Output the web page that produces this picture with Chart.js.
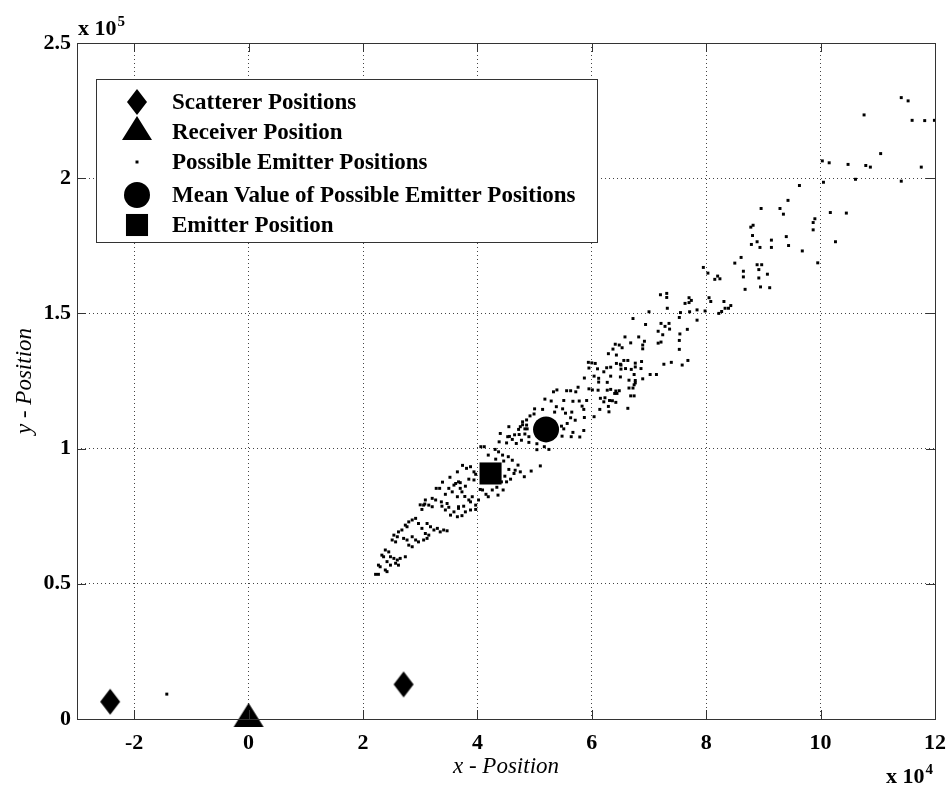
<!DOCTYPE html>
<html>
<head>
<meta charset="utf-8">
<script src="https://cdn.jsdelivr.net/npm/chart.js@4/dist/chart.umd.min.js"></script>
<style>
  html, body { margin: 0; padding: 0; background: #fff; }
  canvas { display: block; }
</style>
</head>
<body>
<canvas id="chart" width="952" height="790"></canvas>
<script>
// x in units of 10^4, y in units of 10^5 (as on the axes)
const xTicks = [-2, 0, 2, 4, 6, 8, 10, 12];
const yTicks = [0, 0.5, 1, 1.5, 2, 2.5];

const scattererX = [-2.42, 2.71];
const scattererY = [0.064, 0.128];
const receiverX = [0];
const receiverY = [0];
const meanX = [5.20];
const meanY = [1.071];
const emitterX = [4.23];
const emitterY = [0.908];

const cloudX = [
  11.41, 11.53, 10.76, 11.60, 11.82, 11.99, 11.05, 10.03, 10.15, 10.48, 10.79, 10.87, 11.76, 10.61, 11.41, 10.05,
  9.63, 9.43, 8.96, 9.29, 9.35, 10.17, 10.45, 9.90, 9.87, 8.78, 8.82, 8.81, 9.87, 9.40, 8.89, 9.14,
  8.79, 8.94, 9.14, 9.44, 10.26, 9.68, 8.61, 8.50, 8.89, 8.97, 8.92, 8.65, 9.95, 9.07,
  7.95, 8.03, 8.65, 8.20, 8.15, 8.24, 8.92, 8.68, 8.95, 9.11, 7.20, 7.31, 7.31, 7.70, 7.74, 7.63,
  7.70, 8.05, 8.08, 8.31, 7.32, 8.33, 8.39, 8.43, 8.27, 8.22, 7.84, 7.98, 7.71, 7.55, 7.00, 7.53,
  7.84, 6.72, 6.94, 7.21, 7.28, 7.35, 7.36, 7.16, 7.24, 7.54, 7.67, 6.58, 6.82, 7.53, 6.92, 6.89,
  7.16, 7.21, 6.53, 6.89, 7.53, 6.56, 6.63, 6.87, 6.50, 6.76, 7.26, 7.39, 7.68, 7.58, 6.59, 6.69,
  6.76, 6.86, 6.50, 6.74, 7.02, 7.13, 6.76, 6.89, 6.74, 6.65, 6.72, 6.68, 6.74,
  6.68, 6.41, 6.48, 6.37, 6.29, 6.43, 5.94, 6.00, 6.06, 6.43, 6.51, 5.95, 6.10, 6.26, 6.33, 6.21,
  6.51, 5.87, 6.04, 6.12, 6.33, 6.12, 6.27, 6.65, 6.76, 5.76, 5.95, 6.01, 6.11, 6.27, 6.33, 6.42,
  6.48, 5.33, 5.39, 5.56, 5.63, 5.72, 5.18, 5.29, 5.51, 5.67, 5.78, 5.91, 5.83, 5.86, 6.15, 6.23,
  6.21, 6.31, 6.36, 6.29, 6.30, 6.40, 6.44, 6.42, 6.63, 6.14, 6.04, 5.00, 5.14, 5.38, 5.49, 5.35,
  5.54, 5.65, 5.63, 5.71, 5.87, 4.92, 4.86, 4.79, 4.75, 4.83, 4.87, 4.55, 4.65, 4.73, 4.83, 4.90,
  4.40, 4.53, 5.47, 5.51, 5.57, 5.67, 5.86, 5.48, 5.64, 5.79, 5.35,
  4.99, 4.79, 4.86, 4.72, 4.56, 4.38, 4.51, 4.61, 4.68, 4.77, 4.90, 5.04, 5.17, 5.25, 5.04, 4.06,
  4.12, 4.31, 4.37, 4.44, 4.54, 4.61, 4.46, 4.32, 4.19, 4.71, 4.75, 4.66, 4.64, 4.82, 4.94, 5.10,
  4.55, 4.48, 4.58, 4.51, 4.42, 4.45, 4.34, 4.26, 4.36, 4.19, 4.09, 4.15, 4.02, 3.74, 3.81, 3.88,
  3.94, 3.97, 3.65, 3.85, 3.94, 3.52, 3.39, 3.59, 3.70, 3.28, 3.34, 3.50, 3.56, 3.44, 3.73, 3.78,
  3.65, 3.88, 3.97, 3.09, 3.27, 3.37, 3.06, 3.15, 3.47, 3.67, 3.76,
  3.62, 3.67, 3.70, 3.79, 4.05, 3.91, 3.85, 3.21, 3.08, 3.00, 3.03, 3.21, 3.38, 3.44, 3.50, 3.59,
  3.67, 3.53, 3.65, 3.73, 3.79, 3.88, 3.97, 2.80, 2.86, 2.92, 2.74, 2.77, 2.97, 3.03, 3.12, 3.18,
  3.24, 3.30, 3.35, 3.41, 3.47, 3.09, 3.15, 2.62, 2.68, 2.54, 2.60, 2.51, 2.57, 2.71, 2.77, 2.86,
  2.92, 2.97, 3.06, 3.12, 2.80, 2.86, 2.39, 2.45, 2.33, 2.36, 2.48, 2.54, 2.60, 2.65, 2.74, 2.42,
  2.48, 2.27, 2.30, 2.57, 2.62, 2.39, 2.22, 2.27, 2.42,
  -1.43
];
const cloudY = [
  2.298, 2.286, 2.234, 2.214, 2.213, 2.214, 2.091, 2.064, 2.057, 2.051, 2.047, 2.041, 2.041, 1.996, 1.989, 1.985,
  1.973, 1.918, 1.888, 1.888, 1.867, 1.873, 1.871, 1.850, 1.836, 1.819, 1.826, 1.788, 1.809, 1.784, 1.765, 1.771,
  1.755, 1.744, 1.744, 1.751, 1.765, 1.731, 1.707, 1.686, 1.680, 1.680, 1.662, 1.656, 1.687, 1.645,
  1.670, 1.649, 1.635, 1.638, 1.626, 1.628, 1.631, 1.589, 1.598, 1.595, 1.569, 1.574, 1.559, 1.558, 1.548, 1.537,
  1.540, 1.558, 1.544, 1.544, 1.519, 1.519, 1.519, 1.529, 1.507, 1.500, 1.513, 1.509, 1.506, 1.503, 1.506, 1.485,
  1.475, 1.481, 1.459, 1.463, 1.452, 1.463, 1.442, 1.434, 1.421, 1.424, 1.441, 1.413, 1.413, 1.400, 1.397, 1.383,
  1.390, 1.394, 1.373, 1.369, 1.367, 1.326, 1.326, 1.322, 1.312, 1.316, 1.312, 1.319, 1.326, 1.309, 1.296, 1.293,
  1.302, 1.296, 1.265, 1.274, 1.274, 1.274, 1.252, 1.258, 1.236, 1.224, 1.224, 1.195, 1.195,
  1.391, 1.386, 1.383, 1.368, 1.351, 1.346, 1.319, 1.317, 1.315, 1.315, 1.309, 1.298, 1.295, 1.299, 1.301, 1.284,
  1.294, 1.261, 1.268, 1.260, 1.268, 1.246, 1.245, 1.253, 1.243, 1.227, 1.221, 1.217, 1.216, 1.216, 1.219, 1.213,
  1.214, 1.210, 1.217, 1.214, 1.214, 1.210, 1.183, 1.176, 1.178, 1.175, 1.176, 1.178, 1.157, 1.145, 1.186, 1.188,
  1.173, 1.178, 1.177, 1.156, 1.136, 1.204, 1.204, 1.171, 1.149, 1.145, 1.118, 1.147, 1.145, 1.155, 1.147, 1.135,
  1.131, 1.135, 1.114, 1.105, 1.115, 1.121, 1.106, 1.099, 1.081, 1.073, 1.073, 1.081, 1.051, 1.052, 1.054, 1.044,
  1.056, 1.044, 1.083, 1.073, 1.093, 1.060, 1.067, 1.046, 1.044, 1.043, 1.049,
  1.128, 1.088, 1.087, 1.071, 1.045, 1.025, 1.021, 1.034, 1.019, 1.031, 1.023, 1.018, 1.007, 0.997, 0.996, 1.007,
  1.007, 0.997, 0.988, 0.976, 0.970, 0.957, 0.954, 0.961, 0.976, 0.939, 0.914, 0.920, 0.908, 0.896, 0.917, 0.936,
  0.923, 0.898, 0.887, 0.877, 0.877, 0.847, 0.857, 0.847, 0.828, 0.822, 0.847, 0.831, 0.810, 0.938, 0.927, 0.933,
  0.914, 0.905, 0.914, 0.887, 0.884, 0.894, 0.876, 0.865, 0.874, 0.853, 0.853, 0.853, 0.840, 0.831, 0.840, 0.823,
  0.822, 0.803, 0.791, 0.810, 0.810, 0.803, 0.791, 0.791, 0.797, 0.785, 0.787,
  0.871, 0.877, 0.853, 0.861, 0.849, 0.822, 0.810, 0.816, 0.795, 0.792, 0.775, 0.785, 0.787, 0.773, 0.783, 0.766,
  0.779, 0.754, 0.748, 0.752, 0.766, 0.773, 0.775, 0.729, 0.736, 0.742, 0.717, 0.711, 0.723, 0.705, 0.723, 0.711,
  0.699, 0.705, 0.692, 0.699, 0.696, 0.686, 0.680, 0.692, 0.699, 0.680, 0.674, 0.662, 0.655, 0.668, 0.662, 0.674,
  0.662, 0.655, 0.662, 0.668, 0.643, 0.637, 0.625, 0.618, 0.606, 0.600, 0.600, 0.594, 0.588, 0.594, 0.600, 0.582,
  0.569, 0.569, 0.563, 0.576, 0.569, 0.551, 0.535, 0.535, 0.545,
  0.092
];

const seriesNames = [
  'Scatterer Positions',
  'Receiver Position',
  'Possible Emitter Positions',
  'Mean Value of Possible Emitter Positions',
  'Emitter Position'
];

function pts(xs, ys) {
  return xs.map((x, i) => ({ x: x, y: ys[i] }));
}

// MATLAB style markers that chart.js doesn't have
function diamondMarker() {
  const c = document.createElement('canvas');
  c.width = 22; c.height = 28;
  const g = c.getContext('2d');
  g.fillStyle = '#000';
  g.beginPath();
  g.moveTo(11, 1); g.lineTo(21, 14); g.lineTo(11, 27); g.lineTo(1, 14);
  g.closePath();
  g.fill();
  return c;
}
function triangleMarker() {
  const c = document.createElement('canvas');
  c.width = 32; c.height = 34;
  const g = c.getContext('2d');
  g.fillStyle = '#000';
  g.beginPath();
  g.moveTo(16, 1); g.lineTo(31, 25); g.lineTo(1, 25);
  g.closePath();
  g.fill();
  return c;
}

const serif = 'Liberation Serif';

const framePlugin = {
  id: 'frame',
  afterDraw(chart) {
    const ctx = chart.ctx;
    const a = chart.chartArea;
    const xs = chart.scales.x, ys = chart.scales.y;
    ctx.save();
    ctx.strokeStyle = '#333';
    ctx.lineWidth = 1;
    ctx.strokeRect(Math.round(a.left) + 0.5, Math.round(a.top) + 0.5,
      Math.round(a.right - a.left), Math.round(a.bottom - a.top));

    // inward tick marks on all four sides
    const tl = 9;
    ctx.beginPath();
    xTicks.forEach(v => {
      const px = Math.round(xs.getPixelForValue(v)) + 0.5;
      ctx.moveTo(px, a.bottom); ctx.lineTo(px, a.bottom - tl);
      ctx.moveTo(px, a.top); ctx.lineTo(px, a.top + tl);
    });
    yTicks.forEach(v => {
      const py = Math.round(ys.getPixelForValue(v)) + 0.5;
      ctx.moveTo(a.left, py); ctx.lineTo(a.left + tl, py);
      ctx.moveTo(a.right, py); ctx.lineTo(a.right - tl, py);
    });
    ctx.stroke();

    // exponent labels
    ctx.fillStyle = '#000';
    ctx.textBaseline = 'alphabetic';
    ctx.textAlign = 'left';
    ctx.font = 'bold 22px "' + serif + '"';
    ctx.fillText('x 10', 78, 35);
    let w = ctx.measureText('x 10').width;
    ctx.font = 'bold 15px "' + serif + '"';
    ctx.fillText('5', 78 + w + 1, 26);
    ctx.font = 'bold 22px "' + serif + '"';
    ctx.fillText('x 10', 886, 783);
    w = ctx.measureText('x 10').width;
    ctx.font = 'bold 15px "' + serif + '"';
    ctx.fillText('4', 886 + w + 1, 774);

    // legend box
    const bx = 96.5, by = 79.5, bw = 501, bh = 163;
    ctx.fillStyle = '#fff';
    ctx.fillRect(bx, by, bw, bh);
    ctx.strokeStyle = '#333';
    ctx.strokeRect(bx, by, bw, bh);
    const rowY = [102, 132, 162, 195, 225];
    chart.data.datasets.forEach((ds, i) => {
      const cx = 137, cy = rowY[i];
      ctx.fillStyle = '#000';
      const st = ds.pointStyle;
      if (st instanceof HTMLCanvasElement) {
        ctx.drawImage(st, cx - st.width / 2, cy - st.height / 2);
      } else if (st === 'circle') {
        ctx.beginPath();
        ctx.arc(cx, cy, ds.pointRadius, 0, Math.PI * 2);
        ctx.fill();
      } else {
        const s = Math.SQRT1_2 * ds.pointRadius;
        ctx.fillRect(cx - s, cy - s, 2 * s, 2 * s);
      }
      ctx.font = 'bold 23px "' + serif + '"';
      ctx.textBaseline = 'middle';
      ctx.fillText(ds.label, 172, cy + 1);
    });
    ctx.restore();
  }
};

new Chart(document.getElementById('chart'), {
  type: 'scatter',
  data: {
    datasets: [
      {
        label: seriesNames[0],
        data: pts(scattererX, scattererY),
        pointStyle: diamondMarker(),
        pointRadius: 12,
        clip: false,
        order: 0
      },
      {
        label: seriesNames[1],
        data: pts(receiverX, receiverY),
        pointStyle: triangleMarker(),
        pointRadius: 15,
        clip: false,
        order: 0
      },
      {
        label: seriesNames[2],
        data: pts(cloudX, cloudY),
        pointStyle: 'rect',
        pointRadius: 2.1,
        backgroundColor: '#000',
        borderWidth: 0,
        order: 10
      },
      {
        label: seriesNames[3],
        data: pts(meanX, meanY),
        pointStyle: 'circle',
        pointRadius: 13,
        backgroundColor: '#000',
        borderWidth: 0,
        order: 0
      },
      {
        label: seriesNames[4],
        data: pts(emitterX, emitterY),
        pointStyle: 'rect',
        pointRadius: 15.6,
        backgroundColor: '#000',
        borderWidth: 0,
        order: 0
      }
    ]
  },
  options: {
    responsive: false,
    animation: false,
    events: [],
    layout: { padding: { top: 43, right: 17, left: 0, bottom: 0 } },
    plugins: {
      legend: { display: false },
      tooltip: { enabled: false }
    },
    scales: {
      x: {
        type: 'linear',
        min: -3,
        max: 12,
        afterBuildTicks: s => { s.ticks = xTicks.map(v => ({ value: v })); },
        afterFit: s => { s.height = 71; s.paddingLeft = 0; s.paddingRight = 0; },
        grid: { color: '#444', lineWidth: 1, drawTicks: false },
        border: { display: false, dash: [1, 3] },
        ticks: {
          color: '#000',
          padding: 11,
          font: { family: serif, size: 22, weight: 'bold' },
          callback: v => String(v)
        },
        title: {
          display: true,
          text: 'x - Position',
          color: '#000',
          font: { family: serif, size: 23, style: 'italic' },
          padding: { top: 0, bottom: 9 }
        }
      },
      y: {
        type: 'linear',
        min: 0,
        max: 2.5,
        afterBuildTicks: s => { s.ticks = yTicks.map(v => ({ value: v })); },
        afterFit: s => { s.width = 77; s.paddingTop = 0; s.paddingBottom = 0; },
        grid: { color: '#444', lineWidth: 1, drawTicks: false },
        border: { display: false, dash: [1, 3] },
        ticks: {
          color: '#000',
          padding: 6,
          font: { family: serif, size: 22, weight: 'bold' },
          callback: v => String(v)
        },
        title: {
          display: true,
          text: 'y - Position',
          color: '#000',
          font: { family: serif, size: 23, style: 'italic' },
          padding: { top: 11, bottom: 0 }
        }
      }
    }
  },
  plugins: [framePlugin]
});
</script>
</body>
</html>
